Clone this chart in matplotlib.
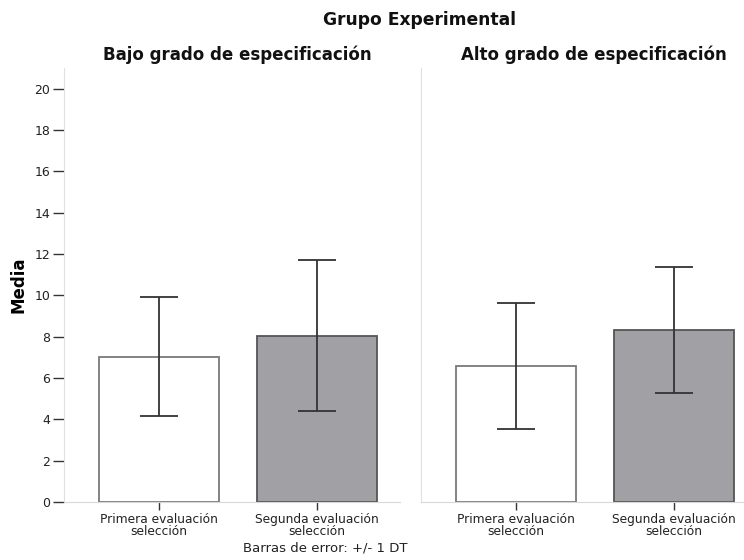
import numpy as np
import matplotlib.pyplot as plt

# group means and standard deviations per panel
panels = ['Bajo grado de especificación', 'Alto grado de especificación']
categories = ['Primera evaluación\nselección', 'Segunda evaluación\nselección']
means = [[7.04, 8.04], [6.60, 8.34]]
sds = [[2.87, 3.66], [3.05, 3.05]]
yticks = [0, 2, 4, 6, 8, 10, 12, 14, 16, 18, 20]

W, H = 744, 560
fig = plt.figure(figsize=(W / 100, H / 100), dpi=100)
plt.rcParams['font.family'] = 'DejaVu Sans'

fills = ['white', '#a1a1a5']
edges = ['#7a7a7a', '#555555']

# axes boxes in pixels: left, right, bottom, top
boxes = [(64, 400), (421, 757)]
y0, y1 = 502, 68
x = np.arange(len(categories))

for i, (l, r) in enumerate(boxes):
    ax = fig.add_axes([l / W, 1 - y0 / H, (r - l) / W, (y0 - y1) / H])
    ax.bar(x, means[i], width=0.76, color=fills, edgecolor=edges, linewidth=1.3, zorder=2)
    ax.errorbar(x, means[i], yerr=sds[i], fmt='none', ecolor='#333333',
                elinewidth=1.3, capsize=14, capthick=1.3, zorder=3)
    ax.set_xlim(-0.6, 1.525)
    ax.set_ylim(0, 21.0)
    ax.set_xticks(x)
    ax.set_xticklabels(categories, fontsize=8.8, color='#222222', linespacing=0.85)
    ax.tick_params(axis='x', length=6, width=1, color='#333333', pad=2)
    for s in ['top', 'right']:
        ax.spines[s].set_visible(False)
    ax.spines['left'].set_color('#e0e0e0')
    ax.spines['bottom'].set_color('#d8d8d8')
    if i == 0:
        ax.set_yticks(yticks)
        ax.tick_params(axis='y', length=8, width=1, color='#333333', labelsize=9,
                       labelcolor='#222222', pad=2)
        ax.set_ylabel('Media', fontsize=12, fontweight='bold', labelpad=5)
    else:
        ax.set_yticks([])

# panel headers sit just above each axes
fig.text(237 / W, 1 - 55 / H, panels[0], ha='center', va='center',
         fontsize=12, fontweight='bold', color='#111111')
fig.text(594 / W, 1 - 55 / H, panels[1], ha='center', va='center',
         fontsize=12, fontweight='bold', color='#111111')
fig.text(420 / W, 1 - 20 / H, 'Grupo Experimental', ha='center', va='center',
         fontsize=12.3, fontweight='bold', color='#111111')
fig.text(325 / W, 1 - 548 / H, 'Barras de error: +/- 1 DT', ha='center', va='center',
         fontsize=9.5, color='#222222')

fig.savefig('out.png', dpi=100)
